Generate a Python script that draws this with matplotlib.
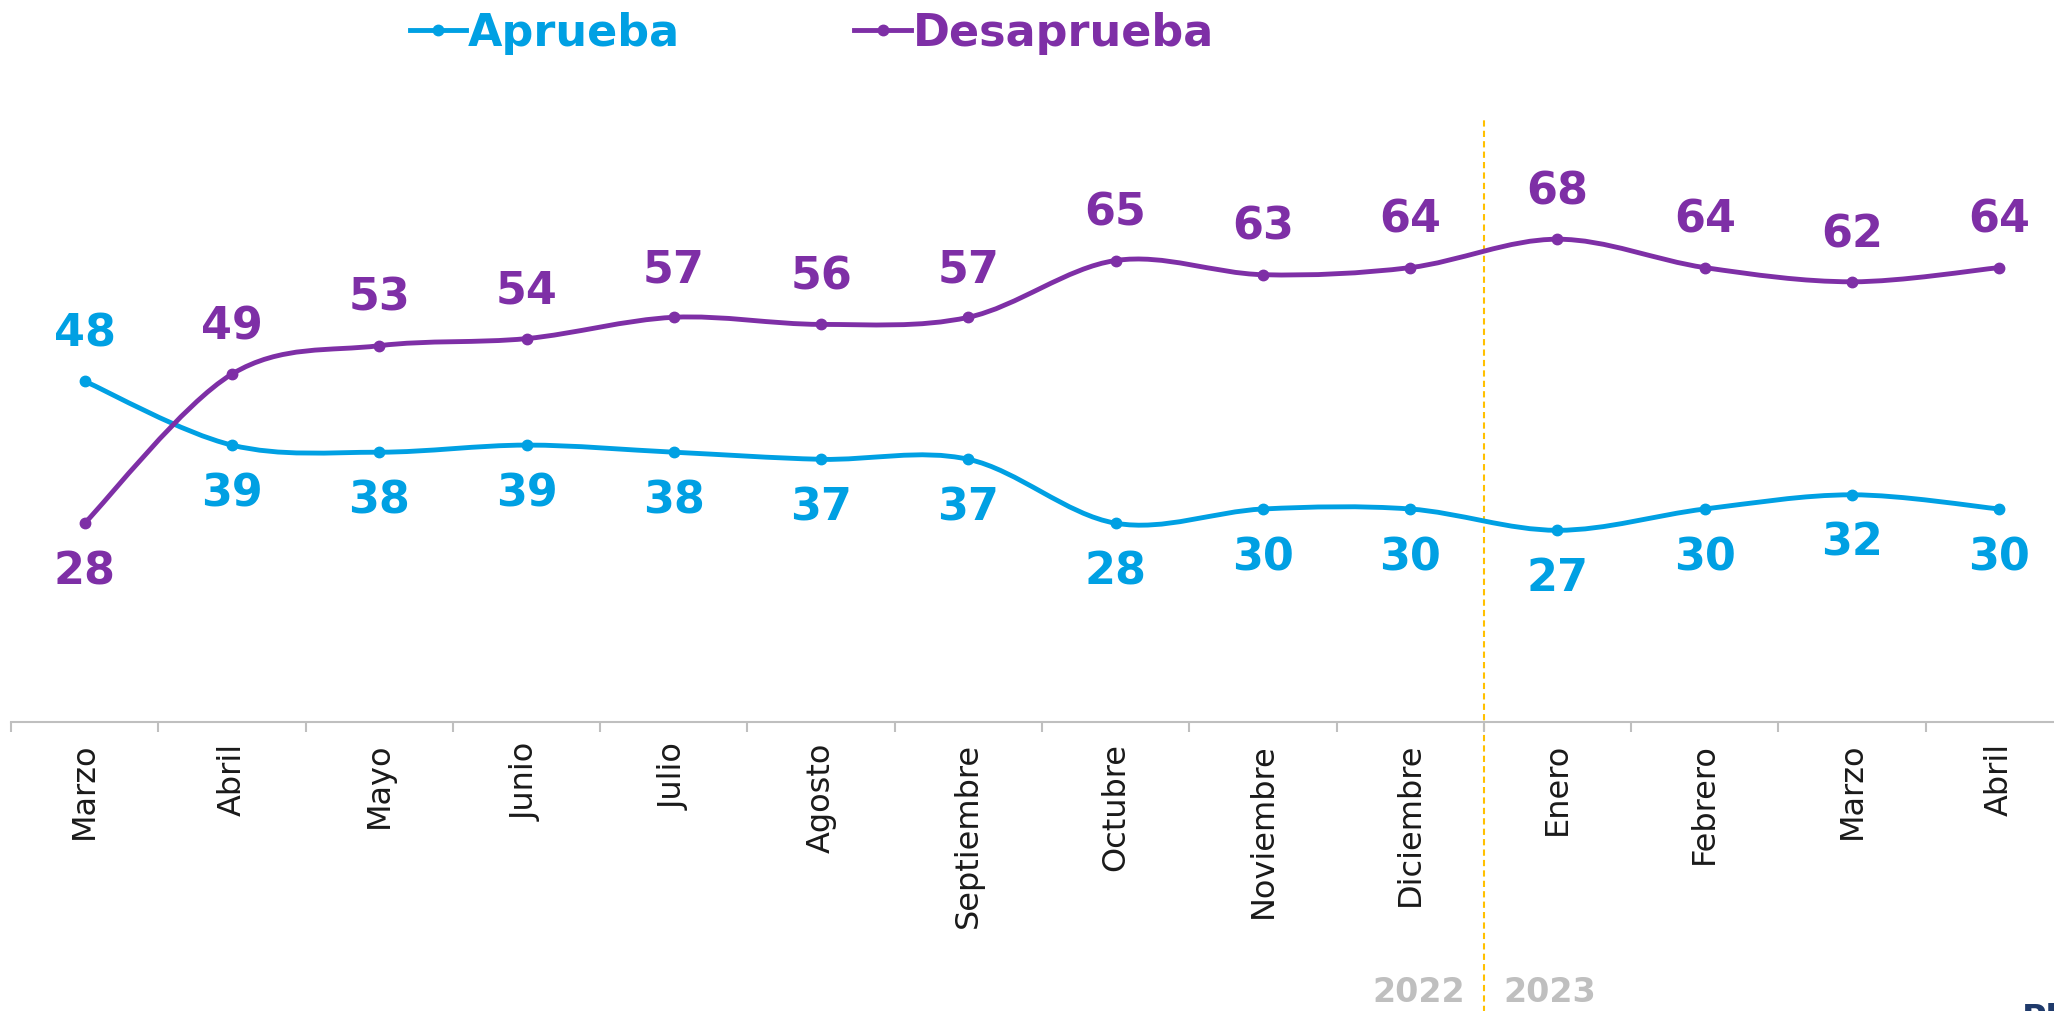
import matplotlib.pyplot as plt
import numpy as np
from matplotlib.path import Path
from matplotlib.patches import PathPatch
from matplotlib.lines import Line2D

meses = ['Marzo', 'Abril', 'Mayo', 'Junio', 'Julio', 'Agosto', 'Septiembre',
         'Octubre', 'Noviembre', 'Diciembre', 'Enero', 'Febrero', 'Marzo', 'Abril']
aprueba = [48, 39, 38, 39, 38, 37, 37, 28, 30, 30, 27, 30, 32, 30]
desaprueba = [28, 49, 53, 54, 57, 56, 57, 65, 63, 64, 68, 64, 62, 64]
anios = ['2022', '2023']

azul = '#00A0E3'
morado = '#7E2FA6'
W, H = 2054, 1011


def smooth_path(x, y):
    # bezier segments like excel smoothed lines
    p = np.column_stack([x, y]).astype(float)
    n = len(p)
    verts = [p[0]]
    codes = [Path.MOVETO]
    for i in range(n - 1):
        p0 = p[max(i - 1, 0)]
        p1 = p[i]
        p2 = p[i + 1]
        p3 = p[min(i + 2, n - 1)]
        c1 = p1 + (p2 - p0) / 6
        c2 = p2 - (p3 - p1) / 6
        verts += [c1, c2, p2]
        codes += [Path.CURVE4] * 3
    return Path(verts, codes)


fig = plt.figure(figsize=(W / 100, H / 100), dpi=100)
ax = fig.add_axes([11 / W, (H - 722) / H, (2073 - 11) / W, (722 - 118.5) / H])

x = np.arange(len(meses))
for vals, col in [(aprueba, azul), (desaprueba, morado)]:
    ax.add_patch(PathPatch(smooth_path(x, vals), facecolor='none', edgecolor=col,
                           lw=3.5, capstyle='round', zorder=3))
    ax.plot(x, vals, 'o', color=col, ms=7.5, zorder=4)

for i in x:
    a_off = 34 if i == 0 else -35
    d_off = -35 if i == 0 else 34
    ax.annotate(str(aprueba[i]), (i, aprueba[i]), xytext=(0, a_off), textcoords='offset points',
                ha='center', va='center', color=azul, fontsize=32, fontweight='bold')
    ax.annotate(str(desaprueba[i]), (i, desaprueba[i]), xytext=(0, d_off), textcoords='offset points',
                ha='center', va='center', color=morado, fontsize=32, fontweight='bold')

ax.set_xlim(-0.5, len(meses) - 0.5)
ax.set_ylim(0, 85)
ax.set_xticks(x)
ax.set_xticklabels(meses, rotation=90, fontsize=23, color='#1a1a1a', va='top')
ax.set_xticks(np.arange(len(meses) + 1) - 0.5, minor=True)
ax.tick_params(axis='x', which='major', length=0, pad=15)
ax.tick_params(axis='x', which='minor', length=7, width=1.5, color='#BFBFBF')
ax.set_yticks([])
for s in ['top', 'left', 'right']:
    ax.spines[s].set_visible(False)
ax.spines['bottom'].set_color('#BFBFBF')
ax.spines['bottom'].set_linewidth(1.5)

# separador de anios
ax.axvline(9.5, ymin=-0.5, ymax=1, color='#FFC000', lw=1.5, ls=(0, (3, 2)), clip_on=False, zorder=1)
fig.text(1419 / W, 1 - 993 / H, anios[0], ha='center', va='center', fontsize=24,
         fontweight='bold', color='#BFBFBF')
fig.text(1550 / W, 1 - 993 / H, anios[1], ha='center', va='center', fontsize=24,
         fontweight='bold', color='#BFBFBF')

# leyenda
for x0, x1, tx, lab, col in [(410, 466, 468, 'Aprueba', azul), (854, 911, 913, 'Desaprueba', morado)]:
    yy = 1 - 30 / H
    fig.add_artist(Line2D([x0 / W, x1 / W], [yy, yy], color=col, lw=3.5))
    fig.add_artist(Line2D([(x0 + x1) / 2 / W], [yy], marker='o', ms=7.5, color=col))
    fig.text(tx / W, 1 - 46 / H, lab, ha='left', va='baseline', fontsize=32,
             fontweight='bold', color=col)

fig.text(2022 / W, 1 - 1003 / H, 'Pl', ha='left', va='top', fontsize=24,
         fontweight='bold', color='#1F3A6B')

fig.savefig('out.png', dpi=100)
